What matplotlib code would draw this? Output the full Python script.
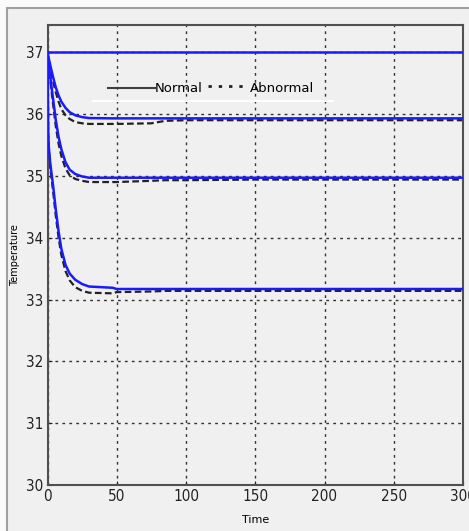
import numpy as np
import matplotlib.pyplot as plt
from matplotlib import font_manager
from matplotlib.patches import Rectangle

# time axis samples (s)
t = [0, 0.5, 1, 2, 4, 6, 8, 10, 13, 16, 20, 25, 30, 47, 50, 75, 85, 100, 150, 200, 250, 300]

# Normal (blue) curves
normal_37 = [37.0] * len(t)
normal_36 = [37.0, 36.94, 36.89, 36.79, 36.6, 36.43, 36.3, 36.2, 36.1, 36.03, 35.98, 35.95, 35.935,
             35.93, 35.93, 35.93, 35.93, 35.93, 35.93, 35.93, 35.93, 35.93]
normal_35 = [37.0, 36.88, 36.78, 36.6, 36.25, 35.9, 35.63, 35.43, 35.22, 35.1, 35.03, 34.99, 34.97,
             34.97, 34.97, 34.97, 34.97, 34.97, 34.97, 34.97, 34.97, 34.97]
normal_33 = [37.0, 35.7, 35.45, 35.2, 34.85, 34.45, 34.1, 33.82, 33.56, 33.42, 33.32, 33.25, 33.21,
             33.19, 33.17, 33.17, 33.17, 33.17, 33.17, 33.17, 33.17, 33.17]

# Abnormal (black dashed) curves
abnormal_36 = [37.0, 36.92, 36.86, 36.74, 36.53, 36.35, 36.2, 36.08, 35.98, 35.92, 35.87, 35.85, 35.84,
               35.84, 35.84, 35.85, 35.89, 35.9, 35.9, 35.9, 35.9, 35.9]
abnormal_35 = [37.0, 36.85, 36.74, 36.54, 36.16, 35.8, 35.52, 35.32, 35.12, 35.01, 34.95, 34.92, 34.9,
               34.9, 34.9, 34.92, 34.93, 34.93, 34.94, 34.94, 34.94, 34.94]
abnormal_33 = [37.0, 35.65, 35.4, 35.13, 34.76, 34.35, 34.0, 33.72, 33.46, 33.31, 33.2, 33.14, 33.11,
               33.1, 33.12, 33.13, 33.14, 33.14, 33.14, 33.14, 33.14, 33.14]

xticks = [0, 50, 100, 150, 200, 250, 300]
yticks = [30, 31, 32, 33, 34, 35, 36, 37]

plt.rcParams['font.family'] = ['DejaVu Sans']

# a condensed face for the tick labels, if one is installed (regular weight first)
narrow = [f for f in font_manager.fontManager.ttflist
          if ('condensed' in str(f.stretch) or 'Narrow' in f.name or 'Condensed' in f.name)
          and 'Mono' not in f.name and 'Serif' not in f.name]
narrow.sort(key=lambda f: ('Bold' in f.fname or f.weight in ('bold', 700),
                           'Oblique' in f.fname or 'Italic' in f.fname))
if narrow:
    tick_fp = font_manager.FontProperties(fname=narrow[0].fname, size=11)
else:
    tick_fp = font_manager.FontProperties(family='DejaVu Sans', size=9.5)

fig = plt.figure(figsize=(4.69, 5.31), dpi=100, facecolor='#fafafa')
# window frame
fig.patches.append(Rectangle((7 / 469, -0.1), 1.2, 1.1 - 8 / 531, transform=fig.transFigure,
                             facecolor='#f0f0f0', edgecolor='#a0a0a0', lw=1.5, zorder=-10))

ax = fig.add_axes([47.5 / 469, 1 - 485 / 531, 415.5 / 469, 460 / 531])
ax.set_facecolor('#f0f0f0')

for y in [normal_37, normal_36, normal_35, normal_33]:
    ax.plot(t, y, color='#1a1aff', lw=1.8, zorder=3)
for y in [abnormal_36, abnormal_35, abnormal_33]:
    ax.plot(t, y, color='#222222', lw=1.6, linestyle=(0, (3, 1.5)), zorder=2)

ax.set_xlim(0, 300)
ax.set_ylim(30, 37.44)
ax.set_xticks(xticks)
ax.set_yticks(yticks)
ax.tick_params(direction='in', length=3, colors='#222222', pad=3)
for lbl in ax.get_xticklabels() + ax.get_yticklabels():
    lbl.set_fontproperties(tick_fp)
ax.grid(True, color='#333333', linestyle=(0, (2, 3)), lw=1.0)
for s in ax.spines.values():
    s.set_color('#505050')
    s.set_linewidth(1.5)

ax.set_xlabel('Time', fontsize=8, labelpad=8)
ax.set_ylabel('Temperature', fontsize=7, labelpad=4)

# legend drawn like the original
tr = ax.transAxes
ax.plot([0.1095, 0.687], [0.835, 0.835], color='white', lw=1.5, transform=tr, zorder=4)
ax.plot([0.1456, 0.2587], [0.863, 0.863], color='#404040', lw=1.5, transform=tr, zorder=4)
ax.plot([0.387, 0.475], [0.868, 0.868], color='#222222', lw=2, linestyle=(0, (1.2, 2.5)),
        transform=tr, zorder=4)
ax.text(0.259, 0.862, 'Normal', transform=tr, fontsize=9.5, va='center', ha='left', zorder=5)
ax.text(0.487, 0.862, 'Abnormal', transform=tr, fontsize=9.5, va='center', ha='left', zorder=5)

fig.savefig('out.png', dpi=100, facecolor=fig.get_facecolor())
